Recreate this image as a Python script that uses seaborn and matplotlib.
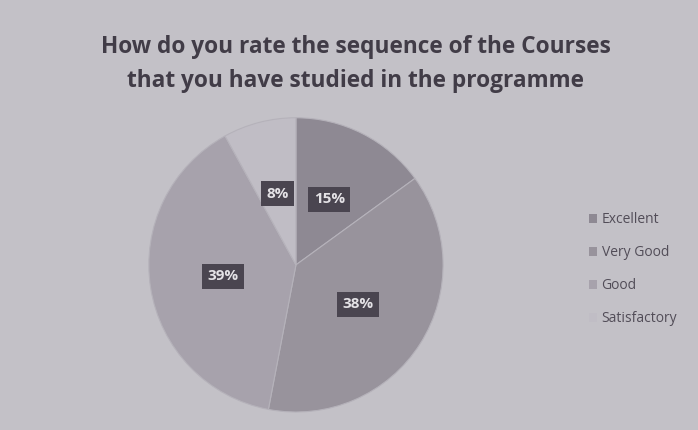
import matplotlib
matplotlib.use("Agg")
import matplotlib.pyplot as plt
import seaborn as sns
from matplotlib.patches import Patch

# data
categories = ["Excellent", "Very Good", "Good", "Satisfactory"]
shares = [15, 38, 39, 8]
pct_labels = ["15%", "38%", "39%", "8%"]
slice_colors = ["#8e8993", "#98939c", "#a7a2ac", "#c0bdc5"]

title = "How do you rate the sequence of the Courses\nthat you have studied in the programme"

sns.set_theme(style="white")
plt.rcParams["font.family"] = ["Open Sans", "DejaVu Sans"]

bg = "#c3c1c7"
fig = plt.figure(figsize=(6.98, 4.30), dpi=100, facecolor=bg)

fig.text(0.51, 0.852, title, ha="center", va="center", fontsize=16.3,
         fontweight="bold", color="#413c47", linespacing=1.55)

ax = fig.add_axes([0.209, 0.035, 0.430, 0.698])
ax.set_facecolor(bg)
wedges, texts, autotexts = ax.pie(
    shares, colors=slice_colors, startangle=90, counterclock=False,
    autopct="%1.0f%%", pctdistance=0.5,
    wedgeprops=dict(linewidth=0.8, edgecolor="#b5b2ba"))

for t, lab in zip(autotexts, pct_labels):
    t.set_text(lab)
    t.set_color("#e4e2e6")
    t.set_fontweight("bold")
    t.set_fontsize(11)
    t.set_bbox(dict(boxstyle="square,pad=0.35", facecolor="#4a4550", edgecolor="none"))
ax.set_xlim(-1.02, 1.02)
ax.set_ylim(-1.02, 1.02)
ax.set_aspect("equal")

handles = [Patch(facecolor=c, edgecolor="none") for c in slice_colors]
fig.legend(handles, categories, loc="center left", bbox_to_anchor=(0.826, 0.374),
           frameon=False, fontsize=10, labelcolor="#524d58",
           handlelength=0.6, handleheight=0.6, handletextpad=0.3,
           labelspacing=1.3)

fig.savefig("out.png", dpi=100, facecolor=bg)
